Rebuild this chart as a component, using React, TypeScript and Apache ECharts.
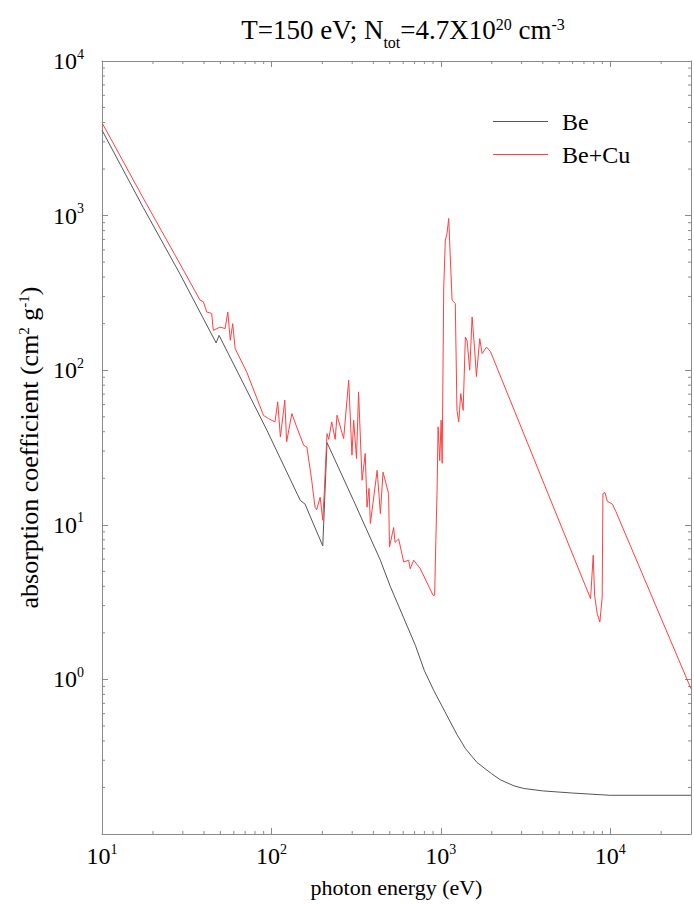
import React, { useEffect, useRef } from "react";
import * as echarts from "echarts";

const titleText = "T=150 eV; N{sub|tot}=4.7X10{sup|20} cm{sup|-3}";
const xName = "photon energy (eV)";
const yName = "absorption coefficient (cm{sup|2} g{sup|-1})";
const seriesNames = ["Be", "Be+Cu"];

// [photon energy (eV), absorption coefficient (cm^2/g)]
const beData: [number, number][] = [
  [10, 3570], [17.5, 1130], [28.9, 418], [47.2, 150], [49.1, 168], [94, 41],
  [148, 14.4], [158, 13.6], [201, 7.3], [213, 34], [306, 14.3], [440, 5.9],
  [503, 4.0], [604, 2.5], [708, 1.66], [800, 1.14], [908, 0.85], [1100, 0.57],
  [1246, 0.44], [1400, 0.356], [1637, 0.29], [2000, 0.245], [2250, 0.224],
  [2700, 0.205], [3090, 0.197], [4000, 0.19], [6000, 0.184], [10000, 0.178],
  [30000, 0.178],
];

const beCuData: [number, number][] = [
  [10, 3990], [17.5, 1300], [28.9, 486], [37.9, 284], [39.7, 277], [41.5, 238],
  [44.4, 233], [45.4, 181], [49.8, 190], [53.3, 186], [55.3, 238], [57.2, 156],
  [59.1, 200], [61.1, 138], [71.6, 97], [89.8, 51], [95.9, 48.7], [105, 46.3],
  [109, 62.4], [113, 37], [120, 64], [123, 34.4], [132, 52.4], [141, 43],
  [155, 32.7], [162, 31.9], [173, 19.4], [181, 13], [185, 12.5], [194, 15.1],
  [201, 10.7], [205, 15.9], [213, 38.9], [218, 35.7], [227, 46.3], [238, 35.7],
  [244, 51.2], [267, 36.1], [286, 86], [299, 28.2], [306, 47.5], [318, 26.8],
  [327, 72.4], [343, 19.4], [358, 28.9], [367, 13], [377, 17.2], [384, 10.2],
  [421, 22.5], [440, 11.8], [456, 21.9], [492, 15.9], [498, 7.2], [527, 9.6],
  [537, 7.7], [564, 8.1], [604, 5.75], [646, 5.9], [660, 5.2], [692, 5.9],
  [757, 5.2], [900, 3.5], [920, 3.5], [935, 7.9], [951, 16.7], [964, 43],
  [986, 26], [1005, 47.5], [1019, 25], [1041, 346], [1064, 694], [1088, 767],
  [1114, 959], [1127, 694], [1166, 284], [1218, 270], [1246, 55], [1276, 46.3],
  [1312, 70.6], [1355, 55], [1397, 164], [1430, 155], [1482, 100], [1531, 221],
  [1581, 141], [1623, 91], [1698, 160], [1754, 128], [1862, 141], [1964, 132],
  [7660, 3.33], [7940, 6.35], [8090, 3.5], [8390, 2.66], [8690, 2.35],
  [8970, 3.4], [9060, 15.9], [9310, 16.2], [9610, 14.2], [10300, 13.6],
  [10800, 12.2], [30000, 0.87],
];

const xMin = 10;
const xMax = 30000;
const yMin = 0.1;
const yMax = 10000;

const minorX = [
  20, 30, 40, 50, 60, 70, 80, 90,
  200, 300, 400, 500, 600, 700, 800, 900,
  2000, 3000, 4000, 5000, 6000, 7000, 8000, 9000,
  20000,
];
const minorY = [
  0.2, 0.3, 0.4, 0.5, 0.6, 0.7, 0.8, 0.9,
  2, 3, 4, 5, 6, 7, 8, 9,
  20, 30, 40, 50, 60, 70, 80, 90,
  200, 300, 400, 500, 600, 700, 800, 900,
  2000, 3000, 4000, 5000, 6000, 7000, 8000, 9000,
];

const FONT = "Liberation Serif";
const FRAME = "#8a8a8a";

function powLabel(skip: number[]) {
  return (v: number) => {
    const l = Math.log10(v);
    const e = Math.round(l);
    if (Math.abs(l - e) > 1e-6 || skip.includes(e)) return "";
    return `{b|10}{s|${e}}`;
  };
}

const labelRich = {
  b: { fontFamily: FONT, fontSize: 24, lineHeight: 28, color: "#000" },
  s: { fontFamily: FONT, fontSize: 14, lineHeight: 14, verticalAlign: "top", color: "#000" },
};

export default function App() {
  const ref = useRef<HTMLDivElement>(null);
  useEffect(() => {
    if (!ref.current) return;
    const chart = echarts.init(ref.current, null, { renderer: "svg" });
    const tickData = [
      ...minorX.map((v) => [v, 1, 0]),
      ...minorY.map((v) => [10, v, 1]),
    ];
    const axisCommon = {
      type: "log",
      logBase: 10,
      axisLine: { show: true, lineStyle: { color: FRAME, width: 1 } },
      axisTick: { show: true, inside: true, length: 6, lineStyle: { color: FRAME } },
      splitLine: { show: false },
      minorTick: { show: false },
    };
    chart.setOption({
      animation: false,
      backgroundColor: "#fff",
      title: {
        text: titleText,
        left: 398,
        top: 11,
        textAlign: "center",
        textStyle: {
          fontFamily: FONT,
          fontSize: 27,
          fontWeight: "normal",
          color: "#000",
          rich: {
            sub: { fontFamily: FONT, fontSize: 16, verticalAlign: "bottom", lineHeight: 16, padding: [0, 0, -7, 0], color: "#000" },
            sup: { fontFamily: FONT, fontSize: 16, verticalAlign: "top", lineHeight: 16, color: "#000" },
          },
        },
      },
      legend: {
        orient: "vertical",
        left: 488,
        top: 104,
        icon: "rect",
        itemWidth: 55,
        itemHeight: 1,
        itemGap: 8,
        data: seriesNames,
        textStyle: { fontFamily: FONT, fontSize: 24, lineHeight: 25, color: "#000", padding: [0, 0, 0, 9] },
      },
      grid: { left: 102, right: 3, top: 61, bottom: 70 },
      xAxis: [
        {
          ...axisCommon,
          min: xMin,
          max: xMax,
          position: "bottom",
          name: xName,
          nameLocation: "middle",
          nameGap: 42,
          nameTextStyle: { fontFamily: FONT, fontSize: 22, color: "#000" },
          axisLabel: { margin: 8, formatter: powLabel([]), rich: labelRich },
        },
        {
          ...axisCommon,
          min: xMin,
          max: xMax,
          position: "top",
          axisLabel: { show: false },
        },
      ],
      yAxis: [
        {
          ...axisCommon,
          min: yMin,
          max: yMax,
          position: "left",
          name: yName,
          nameLocation: "middle",
          nameGap: 60,
          nameTextStyle: {
            fontFamily: FONT,
            fontSize: 26,
            color: "#000",
            rich: {
              sup: { fontFamily: FONT, fontSize: 15, verticalAlign: "top", lineHeight: 15, color: "#000" },
            },
          },
          axisLabel: { margin: 18, formatter: powLabel([-1]), rich: labelRich },
        },
        {
          ...axisCommon,
          min: yMin,
          max: yMax,
          position: "right",
          axisLabel: { show: false },
        },
      ],
      series: [
        {
          name: seriesNames[0],
          type: "line",
          data: beData,
          showSymbol: false,
          symbol: "none",
          color: "#555",
          lineStyle: { color: "#555", width: 1 },
          itemStyle: { color: "#555" },
        },
        {
          name: seriesNames[1],
          type: "line",
          data: beCuData,
          showSymbol: false,
          symbol: "none",
          color: "#ff4040",
          lineStyle: { color: "#ff4040", width: 1 },
          itemStyle: { color: "#ff4040" },
        },
        {
          type: "custom",
          silent: true,
          clip: false,
          z: 5,
          data: tickData,
          renderItem: (params: any, api: any) => {
            const cs = params.coordSys;
            const kind = api.value(2);
            const style = { stroke: FRAME, lineWidth: 1, fill: null };
            if (kind === 0) {
              const px = api.coord([api.value(0), 1])[0];
              return {
                type: "group",
                children: [
                  { type: "line", shape: { x1: px, y1: cs.y + cs.height, x2: px, y2: cs.y + cs.height - 3 }, style },
                  { type: "line", shape: { x1: px, y1: cs.y, x2: px, y2: cs.y + 3 }, style },
                ],
              };
            }
            const py = api.coord([10, api.value(1)])[1];
            return {
              type: "group",
              children: [
                { type: "line", shape: { x1: cs.x, y1: py, x2: cs.x + 3, y2: py }, style },
                { type: "line", shape: { x1: cs.x + cs.width, y1: py, x2: cs.x + cs.width - 3, y2: py }, style },
              ],
            };
          },
        },
      ],
    });
    return () => chart.dispose();
  }, []);
  return (
    <div
      ref={ref}
      style={{ position: "fixed", left: 0, top: 0, width: 694, height: 904 }}
    />
  );
}
